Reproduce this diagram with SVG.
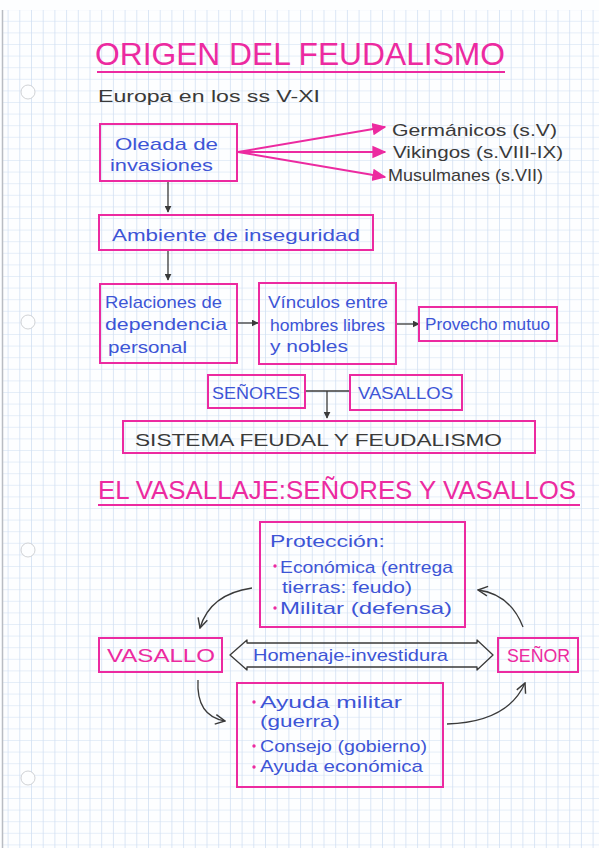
<svg xmlns="http://www.w3.org/2000/svg" width="599" height="848" viewBox="0 0 599 848">
<style>
.box{fill:none;stroke:#ec2aa0;stroke-width:2}
.mg{fill:#ec2aa0;font-family:"Liberation Sans",Arial,sans-serif}
.bl{fill:#3d55d6;font-family:"Liberation Sans",Arial,sans-serif;font-size:17px}
.bk{fill:#3a3a3a;font-family:"Liberation Sans",Arial,sans-serif;font-size:17px}
.con{fill:none;stroke:#3a3a3a;stroke-width:1.3}
.pk{fill:none;stroke:#ec2aa0;stroke-width:2}
.dot{fill:#ec2aa0}
</style>
<defs>
<pattern id="grid" patternUnits="userSpaceOnUse" x="7.6" y="9.2" width="11.7" height="11.6">
<line x1="0" y1="0" x2="0" y2="11.6" stroke="#b9cdeb" stroke-width="1"/>
<line x1="0" y1="0" x2="11.7" y2="0" stroke="#cfdef2" stroke-width="1"/>
</pattern>
<marker id="ab" viewBox="0 0 10 10" refX="9" refY="5" markerWidth="7" markerHeight="7" orient="auto" markerUnits="userSpaceOnUse">
<path d="M0,0 L10,5 L0,10 Z" fill="#3a3a3a"/>
</marker>
<marker id="ap" viewBox="0 0 10 10" refX="9" refY="5" markerWidth="14" markerHeight="14" orient="auto" markerUnits="userSpaceOnUse">
<path d="M0,0.5 L10,5 L0,9.5 Z" fill="#ec2aa0"/>
</marker>
<marker id="ao" viewBox="0 0 10 10" refX="9" refY="5" markerWidth="12" markerHeight="12" orient="auto" markerUnits="userSpaceOnUse">
<path d="M1,1 L9,5 L1,9" fill="none" stroke="#3a3a3a" stroke-width="1.2"/>
</marker>
</defs>
<rect x="0" y="0" width="599" height="848" fill="#fdfeff"/>
<rect x="3" y="10" width="596" height="838" fill="url(#grid)"/>
<line x1="2.5" y1="10" x2="2.5" y2="848" stroke="#b9bcc2" stroke-width="1.5"/>
<g fill="#fdfeff" stroke="#c4c6ca" stroke-width="0.8">
<circle cx="28" cy="92" r="7"/>
<circle cx="28" cy="322" r="7"/>
<circle cx="28" cy="550" r="7"/>
<circle cx="28" cy="778" r="7"/>
</g>

<g id="title1">
<text class="mg" x="95" y="65" font-size="31" textLength="410" lengthAdjust="spacingAndGlyphs">ORIGEN DEL FEUDALISMO</text>
<line x1="97" y1="72" x2="505" y2="72" stroke="#ec2aa0" stroke-width="2"/>
</g>
<g id="subtitle">
<text class="bk" x="98" y="102" font-size="18" textLength="222" lengthAdjust="spacingAndGlyphs">Europa en los ss V-XI</text>
</g>

<g id="connectors">
<line class="pk" x1="238" y1="152" x2="385" y2="127" marker-end="url(#ap)"/>
<line class="pk" x1="238" y1="152" x2="385" y2="152" marker-end="url(#ap)"/>
<line class="pk" x1="238" y1="152" x2="385" y2="177" marker-end="url(#ap)"/>
<line class="con" x1="168" y1="181" x2="168" y2="212" marker-end="url(#ab)"/>
<line class="con" x1="168" y1="250" x2="168" y2="280" marker-end="url(#ab)"/>
<line class="con" x1="237" y1="323" x2="258" y2="323" marker-end="url(#ab)"/>
<line class="con" x1="396" y1="324" x2="419" y2="324" marker-end="url(#ab)"/>
<line class="con" x1="305" y1="391" x2="350" y2="391"/>
<line class="con" x1="327" y1="391" x2="327" y2="418" marker-end="url(#ab)"/>
<path class="con" d="M230,655 L247,640 L247,643 L477,643 L477,640 L493,655 L477,670 L477,667 L247,667 L247,670 Z" stroke-linejoin="round"/>
<path class="con" d="M252,588 Q210,594 200,628" marker-end="url(#ao)"/>
<path class="con" d="M523,627 Q510,594 478,590" marker-end="url(#ao)"/>
<path class="con" d="M198,680 Q196,716 225,721" marker-end="url(#ao)"/>
<path class="con" d="M447,724 Q508,722 525,683" marker-end="url(#ao)"/>
</g>

<g id="oleada">
<rect class="box" x="100" y="124" width="137" height="57"/>
<text class="bl" x="115" y="150" font-size="18" textLength="103" lengthAdjust="spacingAndGlyphs">Oleada de</text>
<text class="bl" x="110" y="171" font-size="18" textLength="103" lengthAdjust="spacingAndGlyphs">invasiones</text>
</g>
<g id="germanicos"><text class="bk" x="392" y="136" textLength="165" lengthAdjust="spacingAndGlyphs">Germánicos (s.V)</text></g>
<g id="vikingos"><text class="bk" x="393" y="158" textLength="170" lengthAdjust="spacingAndGlyphs">Vikingos (s.VIII-IX)</text></g>
<g id="musulmanes"><text class="bk" x="388" y="181" textLength="155" lengthAdjust="spacingAndGlyphs">Musulmanes (s.VII)</text></g>

<g id="ambiente">
<rect class="box" x="99" y="215" width="274" height="35"/>
<text class="bl" x="112" y="241" font-size="18" textLength="248" lengthAdjust="spacingAndGlyphs">Ambiente de inseguridad</text>
</g>

<g id="relaciones">
<rect class="box" x="100" y="284" width="137" height="79"/>
<text class="bl" x="105" y="308" textLength="117" lengthAdjust="spacingAndGlyphs">Relaciones de</text>
<text class="bl" x="105" y="330" textLength="122" lengthAdjust="spacingAndGlyphs">dependencia</text>
<text class="bl" x="108" y="353" textLength="79" lengthAdjust="spacingAndGlyphs">personal</text>
</g>

<g id="vinculos">
<rect class="box" x="259" y="283" width="137" height="81"/>
<text class="bl" x="268" y="308" textLength="120" lengthAdjust="spacingAndGlyphs">Vínculos entre</text>
<text class="bl" x="270" y="331" textLength="115" lengthAdjust="spacingAndGlyphs">hombres libres</text>
<text class="bl" x="270" y="352" textLength="78" lengthAdjust="spacingAndGlyphs">y nobles</text>
</g>

<g id="provecho">
<rect class="box" x="419" y="307" width="138" height="34"/>
<text class="bl" x="425" y="330" textLength="125" lengthAdjust="spacingAndGlyphs">Provecho mutuo</text>
</g>

<g id="senores">
<rect class="box" x="208" y="375" width="97" height="33"/>
<text class="bl" x="212" y="399" textLength="88" lengthAdjust="spacingAndGlyphs">SEÑORES</text>
</g>
<g id="vasallos">
<rect class="box" x="350" y="375" width="112" height="35"/>
<text class="bl" x="358" y="399" textLength="95" lengthAdjust="spacingAndGlyphs">VASALLOS</text>
</g>

<g id="sistema">
<rect class="box" x="123" y="421" width="412" height="32"/>
<text class="bk" x="135" y="446" font-size="20" textLength="367" lengthAdjust="spacingAndGlyphs">SISTEMA FEUDAL Y FEUDALISMO</text>
</g>

<g id="title2">
<text class="mg" x="98" y="499" font-size="26" textLength="478" lengthAdjust="spacingAndGlyphs">EL VASALLAJE:SEÑORES Y VASALLOS</text>
<line x1="98" y1="505" x2="580" y2="505" stroke="#ec2aa0" stroke-width="2"/>
</g>

<g id="proteccion">
<rect class="box" x="260" y="522" width="205" height="105"/>
<text class="bl" x="270" y="547" textLength="115" lengthAdjust="spacingAndGlyphs">Protección:</text>
<circle class="dot" cx="275" cy="566" r="1.7"/>
<text class="bl" x="280" y="573" textLength="173" lengthAdjust="spacingAndGlyphs">Económica (entrega</text>
<text class="bl" x="282" y="593" textLength="130" lengthAdjust="spacingAndGlyphs">tierras: feudo)</text>
<circle class="dot" cx="275" cy="608" r="1.7"/>
<text class="bl" x="280" y="614" textLength="172" lengthAdjust="spacingAndGlyphs">Militar (defensa)</text>
</g>

<g id="vasallo">
<rect class="box" x="99" y="638" width="123" height="34"/>
<text class="mg" x="107" y="662" font-size="18" textLength="108" lengthAdjust="spacingAndGlyphs">VASALLO</text>
</g>

<g id="homenaje">
<text class="bl" x="253" y="661" textLength="195" lengthAdjust="spacingAndGlyphs">Homenaje-investidura</text>
</g>

<g id="senor">
<rect class="box" x="498" y="638" width="80" height="34"/>
<text class="mg" x="507" y="662" font-size="18" textLength="63" lengthAdjust="spacingAndGlyphs">SEÑOR</text>
</g>

<g id="ayuda">
<rect class="box" x="237" y="683" width="206" height="104"/>
<circle class="dot" cx="254" cy="702" r="1.7"/>
<text class="bl" x="260" y="708" textLength="142" lengthAdjust="spacingAndGlyphs">Ayuda militar</text>
<text class="bl" x="260" y="727" textLength="80" lengthAdjust="spacingAndGlyphs">(guerra)</text>
<circle class="dot" cx="254" cy="746" r="1.7"/>
<text class="bl" x="260" y="752" textLength="167" lengthAdjust="spacingAndGlyphs">Consejo (gobierno)</text>
<circle class="dot" cx="254" cy="767" r="1.7"/>
<text class="bl" x="260" y="772" textLength="163" lengthAdjust="spacingAndGlyphs">Ayuda económica</text>
</g>
</svg>
